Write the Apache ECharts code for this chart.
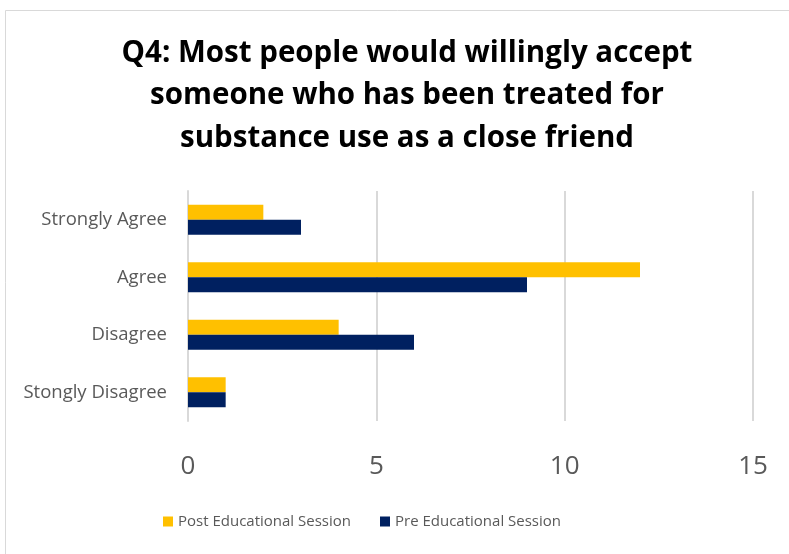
<!DOCTYPE html>
<html><head><meta charset="utf-8">
<script src="https://cdn.jsdelivr.net/npm/echarts@6/dist/echarts.min.js"></script>
<style>html,body{margin:0;padding:0;background:#fff}#c{width:789px;height:554px}</style>
</head><body><div id="c"></div>
<script>
const categories = ['Strongly Agree', 'Agree', 'Disagree', 'Stongly Disagree'];
const postValues = [2, 12, 4, 1];
const preValues = [3, 9, 6, 1];
const xTicks = [0, 5, 10, 15];
const seriesNames = ['Post Educational Session', 'Pre Educational Session'];
const titleText = 'Q4: Most people would willingly accept\nsomeone who has been treated for\nsubstance use as a close friend';

const chart = echarts.init(document.getElementById('c'));
const font = '"Open Sans", "Liberation Sans", sans-serif';
chart.setOption({
  animation: false,
  backgroundColor: '#fff',
  graphic: [{type: 'rect', shape: {x: 5.5, y: 10.5, width: 800, height: 600}, style: {fill: 'none', stroke: '#d9d9d9', lineWidth: 1}, silent: true, z: -1}],
  title: {
    text: titleText, left: 402, top: 27, textAlign: 'center',
    textStyle: {fontFamily: font, fontWeight: 'bold', fontSize: 29.5, lineHeight: 42.5, color: '#000'}
  },
  legend: {
    data: seriesNames, bottom: 20, left: 158, itemWidth: 10, itemHeight: 10, itemGap: 29,
    icon: 'rect',
    textStyle: {fontFamily: font, fontSize: 15, color: '#595959'}
  },
  grid: {left: 188, right: 36, top: 191, bottom: 133, containLabel: false},
  xAxis: {
    type: 'value', min: xTicks[0], max: xTicks[xTicks.length - 1], interval: 5,
    axisLine: {show: false}, axisTick: {show: false},
    splitLine: {lineStyle: {color: '#d9d9d9', width: 2}},
    axisLabel: {fontFamily: font, fontSize: 26, color: '#595959', margin: 33}
  },
  yAxis: {
    type: 'category', data: categories, inverse: true,
    axisLine: {lineStyle: {color: '#d9d9d9', width: 2}}, axisTick: {show: false},
    axisLabel: {fontFamily: font, fontSize: 18.5, color: '#595959', margin: 21}
  },
  series: [
    {name: seriesNames[0], type: 'bar', data: postValues, itemStyle: {color: '#FFC000'}, barGap: '0%', barCategoryGap: '48%'},
    {name: seriesNames[1], type: 'bar', data: preValues, itemStyle: {color: '#002060'}, barGap: '0%', barCategoryGap: '48%'}
  ]
});
</script></body></html>
